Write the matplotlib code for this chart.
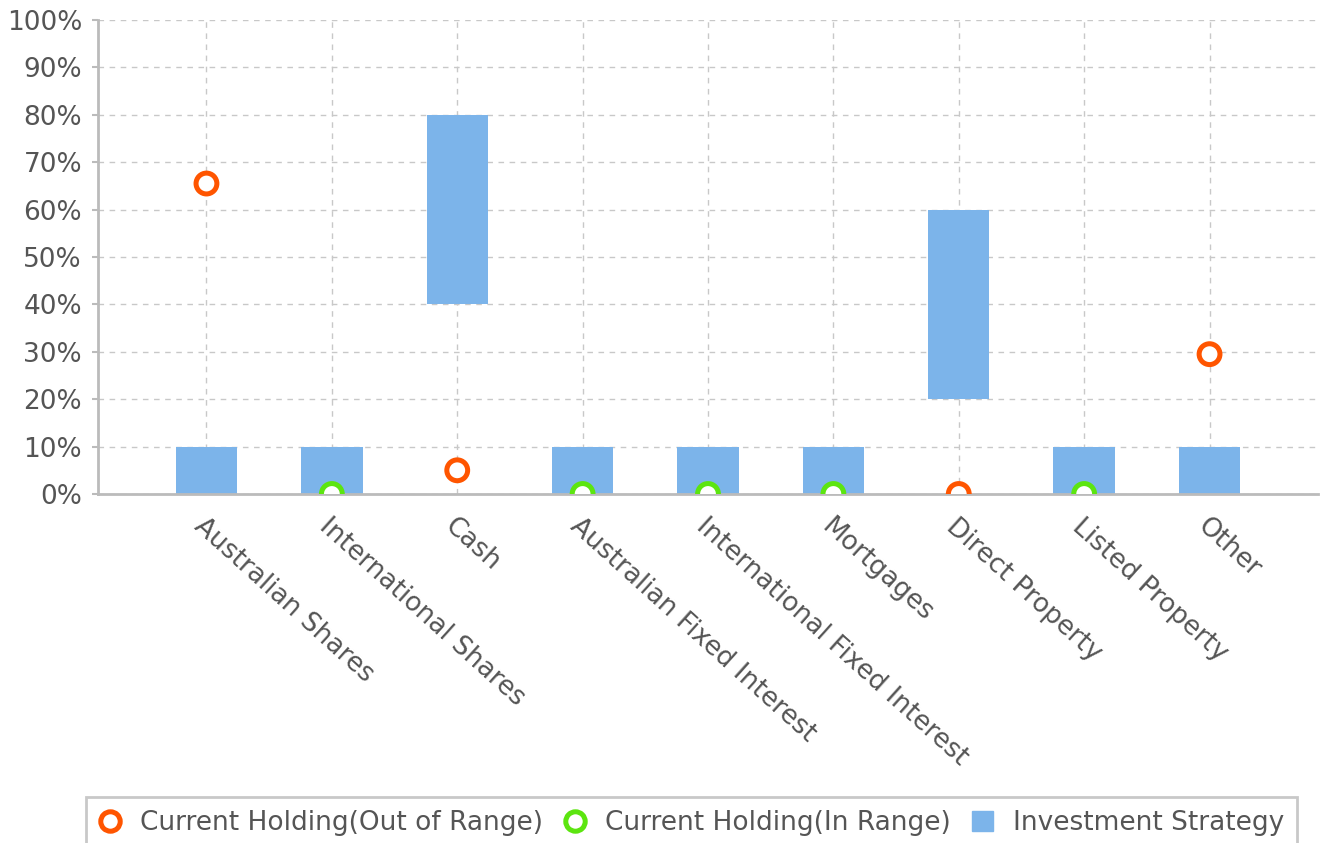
import matplotlib.pyplot as plt
import numpy as np
from matplotlib.lines import Line2D
from matplotlib.patches import Patch

categories = ["Australian Shares", "International Shares", "Cash",
              "Australian Fixed Interest", "International Fixed Interest",
              "Mortgages", "Direct Property", "Listed Property", "Other"]
strategy_low = [0, 0, 40, 0, 0, 0, 20, 0, 0]
strategy_high = [10, 10, 80, 10, 10, 10, 60, 10, 10]
out_idx = [0, 2, 6, 8]
out_vals = [65.5, 5, 0, 29.5]
in_idx = [1, 3, 4, 5, 7]
in_vals = [0, 0, 0, 0, 0]

BAR = "#7cb4ea"
ORANGE = "#ff5500"
GREEN = "#5ce510"
TEXT = "#555555"
AXIS = "#bbbbbb"
FS = 19

fig = plt.figure(figsize=(13.28, 8.43), dpi=100)
ax = fig.add_axes([98 / 1328, 1 - 494 / 843, 1220 / 1328, 474 / 843])

x = np.arange(len(categories))
low = np.array(strategy_low)
high = np.array(strategy_high)
ax.bar(x, high - low, bottom=low, width=0.49, color=BAR, zorder=2)

# holdings at 0% are cut in half by the plot edge, as in the reference.
# per-point colour lists stop Agg from using its (unclipped) marker fast path
for idx, vals, col in [(out_idx, out_vals, ORANGE), (in_idx, in_vals, GREEN)]:
    ax.scatter(idx, vals, s=15 ** 2, linewidths=3.6,
               edgecolors=[col] * len(idx), facecolors=["white"] * len(idx),
               zorder=4)

ax.set_xlim(-0.865, len(categories) - 1 + 0.865)
ax.set_ylim(0, 100)
ax.set_yticks(np.arange(0, 101, 10))
ax.set_yticklabels([f"{v}%" for v in range(0, 101, 10)])
ax.set_xticks(x)
ax.set_xticklabels(categories, rotation=-42, ha="left", va="top",
                   rotation_mode="anchor")

ax.grid(True, ls=(0, (4, 4)), color="#c8c8c8", lw=1, zorder=0)
ax.set_axisbelow(True)
for s in ("top", "right"):
    ax.spines[s].set_visible(False)
for s in ("left", "bottom"):
    ax.spines[s].set_color(AXIS)
    ax.spines[s].set_linewidth(2)
    ax.spines[s].set_zorder(3)
ax.tick_params(axis="y", colors=AXIS, labelcolor=TEXT, labelsize=FS,
               length=4.5, width=1.5, pad=7)
ax.tick_params(axis="x", length=0, labelcolor=TEXT, labelsize=FS, pad=14)

handles = [
    Line2D([], [], ls="none", marker="o", ms=14, mew=3.6, mec=ORANGE,
           mfc="white", label="Current Holding(Out of Range)"),
    Line2D([], [], ls="none", marker="o", ms=14, mew=3.6, mec=GREEN,
           mfc="white", label="Current Holding(In Range)"),
    Patch(color=BAR, label="Investment Strategy"),
]
leg = fig.legend(handles=handles, loc="upper left", ncol=3,
                 bbox_to_anchor=(86 / 1328, 1 - 797 / 843),
                 borderaxespad=0, frameon=True, fancybox=False, fontsize=FS,
                 handlelength=0.8, handleheight=0.8, handletextpad=0.75,
                 columnspacing=0.8, borderpad=0.5, labelcolor=TEXT)
leg.get_frame().set_edgecolor(AXIS)
leg.get_frame().set_linewidth(2)

fig.savefig("out.png", dpi=100)
